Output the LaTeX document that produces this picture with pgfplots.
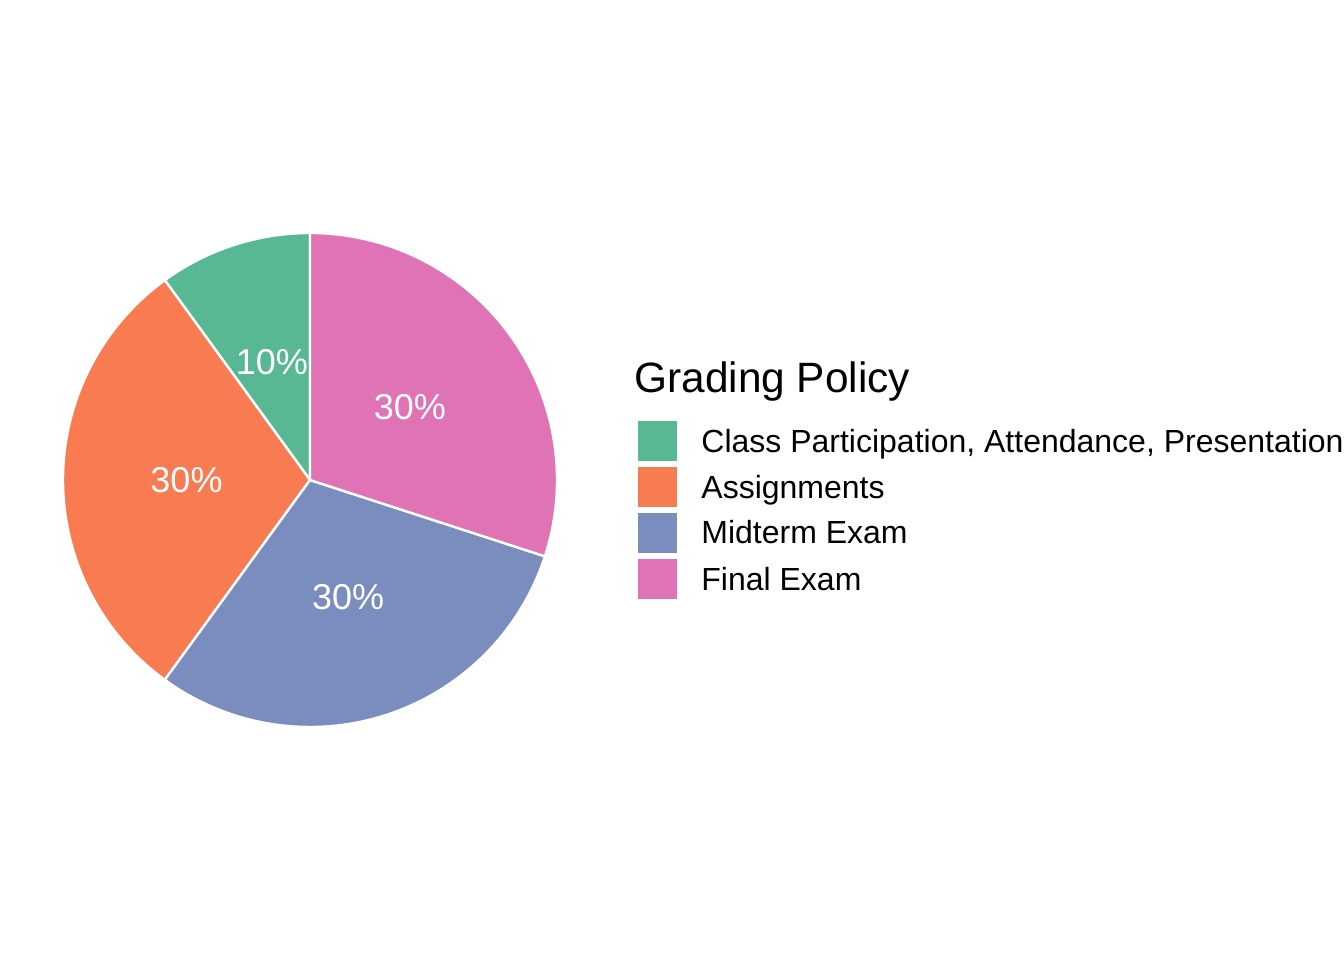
\documentclass[border=0pt]{standalone}
\usepackage{fontspec}
\setmainfont{Liberation Sans}
\usepackage{pgfplots}
\pgfplotsset{compat=1.18}
\usepackage{pgfplotstable}
\definecolor{cA}{RGB}{88,184,147}
\definecolor{cB}{RGB}{249,123,81}
\definecolor{cC}{RGB}{123,140,191}
\definecolor{cD}{RGB}{224,114,182}
\pgfplotstableread[col sep=semicolon]{
share;name
10;Class Participation, Attendance, Presentation
30;Assignments
30;Midterm Exam
30;Final Exam
}\grading
\pgfplotstablegetelem{0}{share}\of\grading\pgfmathtruncatemacro\sA{\pgfplotsretval}
\pgfplotstablegetelem{1}{share}\of\grading\pgfmathtruncatemacro\sB{\pgfplotsretval}
\pgfplotstablegetelem{2}{share}\of\grading\pgfmathtruncatemacro\sC{\pgfplotsretval}
\pgfplotstablegetelem{3}{share}\of\grading\pgfmathtruncatemacro\sD{\pgfplotsretval}
\pgfplotstablegetelem{0}{name}\of\grading\let\nA\pgfplotsretval
\pgfplotstablegetelem{1}{name}\of\grading\let\nB\pgfplotsretval
\pgfplotstablegetelem{2}{name}\of\grading\let\nC\pgfplotsretval
\pgfplotstablegetelem{3}{name}\of\grading\let\nD\pgfplotsretval
\pgfmathsetmacro\aA{90}
\pgfmathsetmacro\aB{\aA+3.6*\sA}
\pgfmathsetmacro\aC{\aB+3.6*\sB}
\pgfmathsetmacro\aD{\aC+3.6*\sC}
\pgfmathsetmacro\aE{\aD+3.6*\sD}
\pgfmathsetmacro\mA{(\aA+\aB)/2}
\pgfmathsetmacro\mB{(\aB+\aC)/2}
\pgfmathsetmacro\mC{(\aC+\aD)/2}
\pgfmathsetmacro\mD{(\aD+\aE)/2}
\begin{document}%
\begin{tikzpicture}
\begin{axis}[scale only axis, width=672pt, height=480pt,
  xmin=0, xmax=1344, ymin=0, ymax=960, hide axis, clip=false]
\path (axis cs:0,0) rectangle (axis cs:1344,960);
% pie sectors
\filldraw[fill=cA, draw=white, line width=1.2pt] (axis cs:310,480) -- +(\aA:123.5pt) arc[start angle=\aA, end angle=\aB, radius=123.5pt] -- cycle;
\filldraw[fill=cB, draw=white, line width=1.2pt] (axis cs:310,480) -- +(\aB:123.5pt) arc[start angle=\aB, end angle=\aC, radius=123.5pt] -- cycle;
\filldraw[fill=cC, draw=white, line width=1.2pt] (axis cs:310,480) -- +(\aC:123.5pt) arc[start angle=\aC, end angle=\aD, radius=123.5pt] -- cycle;
\filldraw[fill=cD, draw=white, line width=1.2pt] (axis cs:310,480) -- +(\aD:123.5pt) arc[start angle=\aD, end angle=\aE, radius=123.5pt] -- cycle;
% labels
\path (axis cs:310,480) ++(\mA:61.75pt) node[text=white, inner sep=0pt, font=\fontsize{18}{20}\selectfont] {\sA\%};
\path (axis cs:310,480) ++(\mB:61.75pt) node[text=white, inner sep=0pt, font=\fontsize{18}{20}\selectfont] {\sB\%};
\path (axis cs:310,480) ++(\mC:61.75pt) node[text=white, inner sep=0pt, font=\fontsize{18}{20}\selectfont] {\sC\%};
\path (axis cs:310,480) ++(\mD:61.75pt) node[text=white, inner sep=0pt, font=\fontsize{18}{20}\selectfont] {\sD\%};
% legend
\node[anchor=base west, inner sep=0pt, font=\fontsize{21.2}{24}\selectfont] at (axis cs:634,567) {Grading Policy};
\fill[cA] (axis cs:638,539) rectangle (axis cs:677,499);
\fill[cB] (axis cs:638,493) rectangle (axis cs:677,453);
\fill[cC] (axis cs:638,447) rectangle (axis cs:677,407);
\fill[cD] (axis cs:638,401) rectangle (axis cs:677,361);
\node[anchor=base west, inner sep=0pt, font=\fontsize{16}{19}\selectfont] at (axis cs:701,508) {\nA};
\node[anchor=base west, inner sep=0pt, font=\fontsize{16}{19}\selectfont] at (axis cs:701,462) {\nB};
\node[anchor=base west, inner sep=0pt, font=\fontsize{16}{19}\selectfont] at (axis cs:701,416) {\nC};
\node[anchor=base west, inner sep=0pt, font=\fontsize{16}{19}\selectfont] at (axis cs:701,370) {\nD};
\end{axis}
\end{tikzpicture}%
\end{document}
